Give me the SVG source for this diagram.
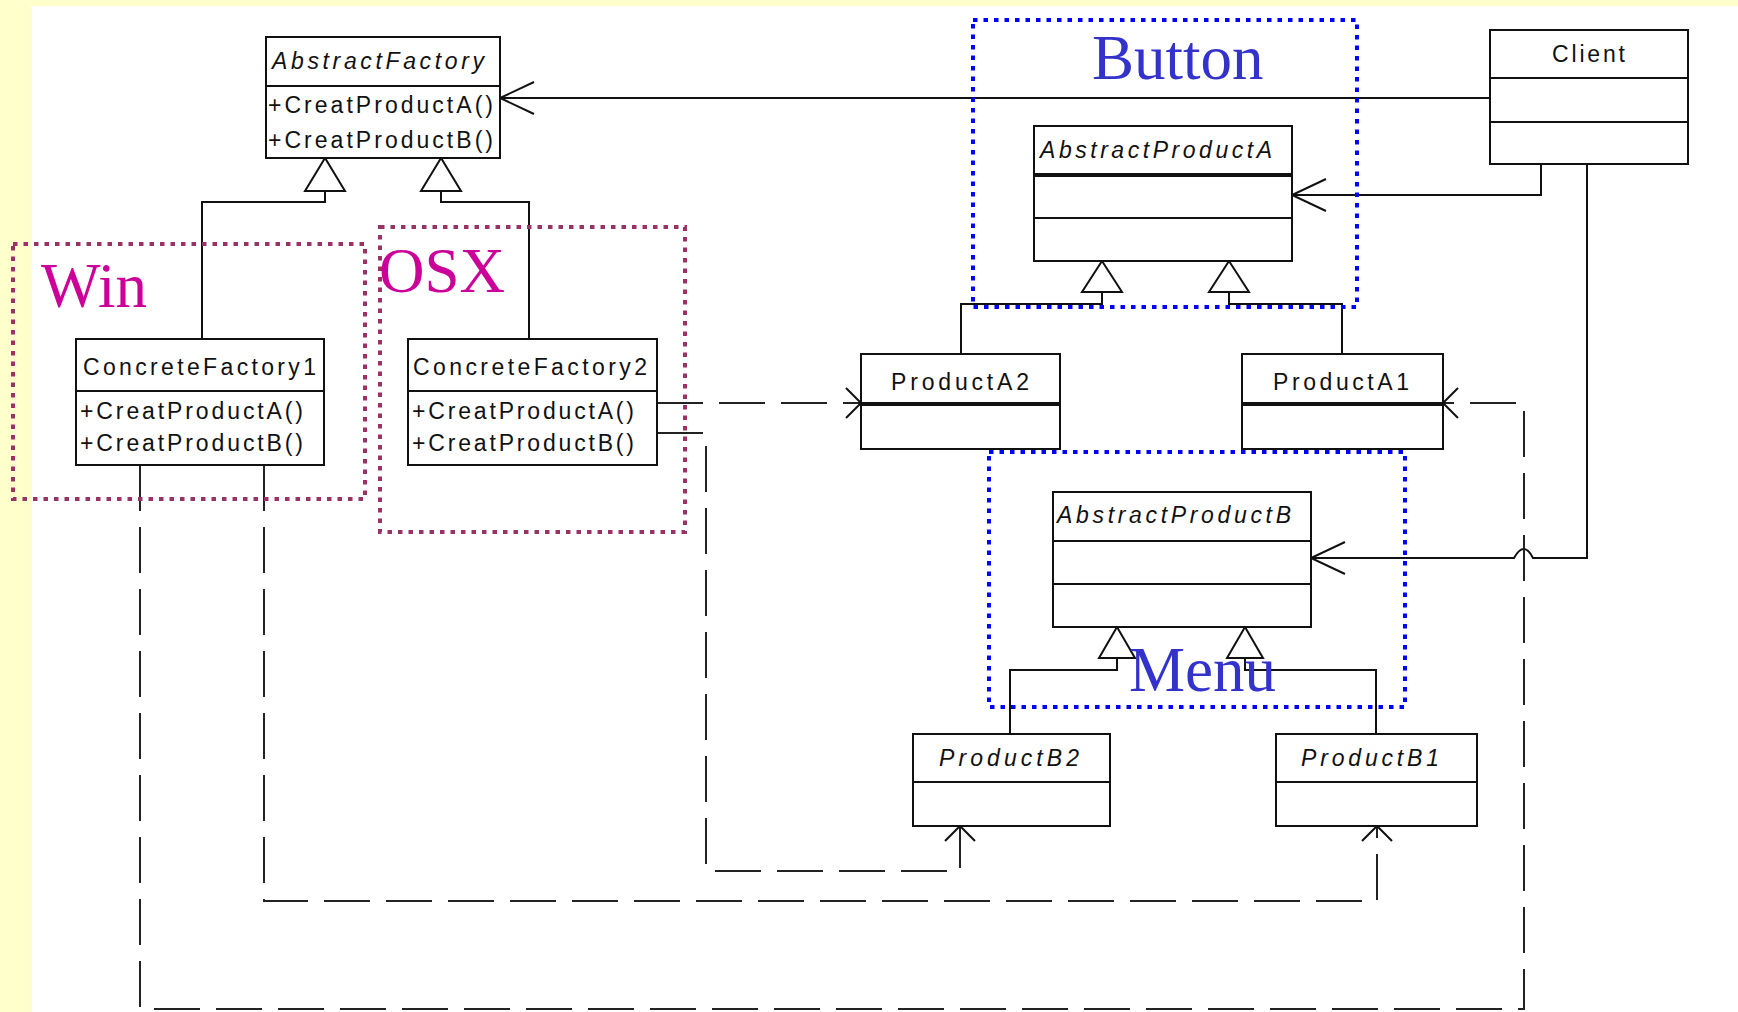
<svg xmlns="http://www.w3.org/2000/svg" width="1738" height="1012" viewBox="0 0 1738 1012">
<style>
.box{fill:#fff;stroke:#111;stroke-width:2}
.div{stroke:#111;stroke-width:2}
.thick{stroke:#111;stroke-width:4}
.t{font-family:"Liberation Sans",Arial,sans-serif;font-size:23px;fill:#111}
.i{font-style:italic}
.line{fill:none;stroke:#111;stroke-width:2}
.dash{fill:none;stroke:#222;stroke-width:2;stroke-dasharray:46 16}
.tri{fill:#fff;stroke:#111;stroke-width:2}
.grpR{fill:none;stroke:#993366;stroke-width:4;stroke-dasharray:4.5 6}
.grpB{fill:none;stroke:#0000FF;stroke-width:4;stroke-dasharray:4.5 6}
.lblR{font-family:"Liberation Serif","Times New Roman",serif;font-size:63px;fill:#CC0099}
.lblB{font-family:"Liberation Serif","Times New Roman",serif;font-size:63px;fill:#3333CC}
</style>
<defs>
<marker id="assoc" markerUnits="userSpaceOnUse" markerWidth="40" markerHeight="40" refX="0" refY="0" orient="auto" overflow="visible">
<path d="M-34,-16 L0,0 L-34,16" fill="none" stroke="#111" stroke-width="2"/>
</marker>
<marker id="dep" markerUnits="userSpaceOnUse" markerWidth="20" markerHeight="20" refX="0" refY="0" orient="auto" overflow="visible">
<path d="M-15,-15 L0,0 L-15,15" fill="none" stroke="#111" stroke-width="2"/>
</marker>
</defs>
<rect x="0" y="0" width="1738" height="1012" fill="#FFFFCC"/>
<rect x="31" y="6" width="1707" height="1006" fill="#FFFFFF"/>

<g id="connectors">
<path class="line" d="M325,191 V202 H202 V339"/>
<path class="line" d="M441,191 V202 H529 V339"/>
<path class="line" d="M1102,292 V304 H961 V354"/>
<path class="line" d="M1229,292 V304 H1342 V354"/>
<path class="line" d="M1117,658 V670 H1010 V734"/>
<path class="line" d="M1245,658 V670 H1376 V734"/>
<polygon class="tri" points="325,158 305,191 345,191"/>
<polygon class="tri" points="441,158 421,191 461,191"/>
<polygon class="tri" points="1102,261 1082,292 1122,292"/>
<polygon class="tri" points="1229,261 1209,292 1249,292"/>
<polygon class="tri" points="1117,627 1099,658 1135,658"/>
<polygon class="tri" points="1245,627 1227,658 1263,658"/>
<path class="line" d="M1490,98 H500" marker-end="url(#assoc)"/>
<path class="line" d="M1541,164 V195 H1292" marker-end="url(#assoc)"/>
<path class="line" d="M1587,164 V558 H1533 Q1524,540 1514,558 H1311" marker-end="url(#assoc)"/>
<path class="dash" d="M657,403 H861" marker-end="url(#dep)"/>
<path class="dash" d="M657,433 H706 V871 H960 V826" marker-end="url(#dep)"/>
<path class="dash" d="M264,465 V901 H1377 V826" marker-end="url(#dep)"/>
<path class="dash" d="M140,465 V1009 H1524 V403 H1443" marker-end="url(#dep)"/>
</g>

<g id="AbstractFactory">
<rect class="box" x="266" y="37" width="234" height="121"/>
<line class="div" x1="266" y1="86" x2="500" y2="86"/>
<text class="t i" x="272" y="69" textLength="212" lengthAdjust="spacing">AbstractFactory</text>
<text class="t" x="268" y="113" textLength="225" lengthAdjust="spacing">+CreatProductA()</text>
<text class="t" x="268" y="148" textLength="225" lengthAdjust="spacing">+CreatProductB()</text>
</g>

<g id="ConcreteFactory1">
<rect class="box" x="76" y="339" width="248" height="126"/>
<line class="div" x1="76" y1="391" x2="324" y2="391"/>
<text class="t" x="83" y="375" textLength="233" lengthAdjust="spacing">ConcreteFactory1</text>
<text class="t" x="80" y="419" textLength="223" lengthAdjust="spacing">+CreatProductA()</text>
<text class="t" x="80" y="451" textLength="223" lengthAdjust="spacing">+CreatProductB()</text>
</g>

<g id="ConcreteFactory2">
<rect class="box" x="408" y="339" width="249" height="126"/>
<line class="div" x1="408" y1="391" x2="657" y2="391"/>
<text class="t" x="413" y="375" textLength="234" lengthAdjust="spacing">ConcreteFactory2</text>
<text class="t" x="412" y="419" textLength="222" lengthAdjust="spacing">+CreatProductA()</text>
<text class="t" x="412" y="451" textLength="222" lengthAdjust="spacing">+CreatProductB()</text>
</g>

<g id="AbstractProductA">
<rect class="box" x="1034" y="126" width="258" height="135"/>
<line class="thick" x1="1034" y1="175" x2="1292" y2="175"/>
<line class="div" x1="1034" y1="218" x2="1292" y2="218"/>
<text class="t i" x="1040" y="158" textLength="232" lengthAdjust="spacing">AbstractProductA</text>
</g>

<g id="ProductA2">
<rect class="box" x="861" y="354" width="199" height="95"/>
<line class="thick" x1="861" y1="404" x2="1060" y2="404"/>
<text class="t" x="891" y="390" textLength="138" lengthAdjust="spacing">ProductA2</text>
</g>

<g id="ProductA1">
<rect class="box" x="1242" y="354" width="201" height="95"/>
<line class="thick" x1="1242" y1="404" x2="1443" y2="404"/>
<text class="t" x="1273" y="390" textLength="136" lengthAdjust="spacing">ProductA1</text>
</g>

<g id="AbstractProductB">
<rect class="box" x="1053" y="492" width="258" height="135"/>
<line class="div" x1="1053" y1="541" x2="1311" y2="541"/>
<line class="div" x1="1053" y1="584" x2="1311" y2="584"/>
<text class="t i" x="1057" y="523" textLength="234" lengthAdjust="spacing">AbstractProductB</text>
</g>

<g id="ProductB2">
<rect class="box" x="913" y="734" width="197" height="92"/>
<line class="div" x1="913" y1="782" x2="1110" y2="782"/>
<text class="t i" x="939" y="766" textLength="140" lengthAdjust="spacing">ProductB2</text>
</g>

<g id="ProductB1">
<rect class="box" x="1276" y="734" width="201" height="92"/>
<line class="div" x1="1276" y1="782" x2="1477" y2="782"/>
<text class="t i" x="1301" y="766" textLength="138" lengthAdjust="spacing">ProductB1</text>
</g>

<g id="Client">
<rect class="box" x="1490" y="30" width="198" height="134"/>
<line class="div" x1="1490" y1="78" x2="1688" y2="78"/>
<line class="div" x1="1490" y1="122" x2="1688" y2="122"/>
<text class="t" x="1552" y="62" textLength="73" lengthAdjust="spacing">Client</text>
</g>

<g id="group-Win">
<rect class="grpR" x="13" y="244" width="352" height="255"/>
<text class="lblR" x="41" y="307">Win</text>
</g>
<g id="group-OSX">
<rect class="grpR" x="380" y="227" width="305" height="305"/>
<text class="lblR" x="379" y="292">OSX</text>
</g>
<g id="group-Button">
<rect class="grpB" x="973" y="20" width="384" height="287"/>
<text class="lblB" x="1092" y="79">Button</text>
</g>
<g id="group-Menu">
<rect class="grpB" x="989" y="452" width="416" height="255"/>
<text class="lblB" x="1129" y="691">Menu</text>
</g>
</svg>
